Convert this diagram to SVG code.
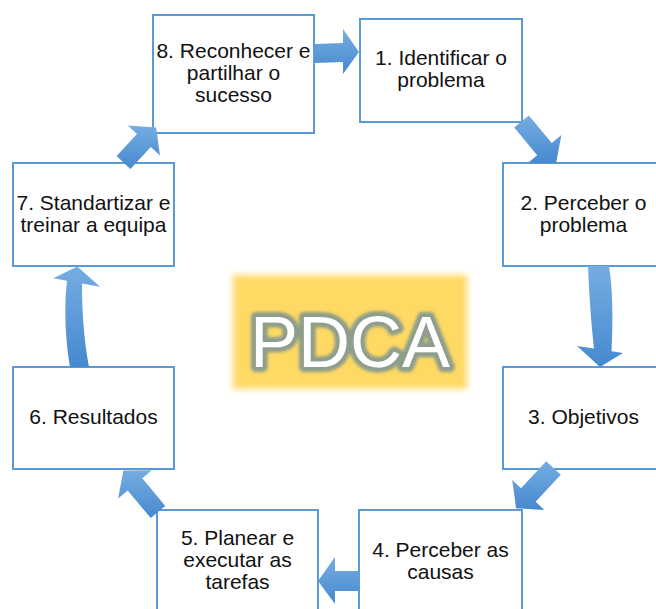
<svg xmlns="http://www.w3.org/2000/svg" width="656" height="609" viewBox="0 0 656 609">
  <defs>
    <linearGradient id="arrowFill" x1="0" y1="0" x2="0" y2="1">
      <stop offset="0" stop-color="#76ade2"/>
      <stop offset="1" stop-color="#4689cf"/>
    </linearGradient>
    <filter id="softEdge" x="-10%" y="-10%" width="120%" height="120%">
      <feGaussianBlur stdDeviation="3"/>
    </filter>
    <filter id="glow" x="-10%" y="-20%" width="120%" height="140%">
      <feGaussianBlur stdDeviation="1.8"/>
    </filter>
    <style>
      .box { fill: #ffffff; stroke: #5b9bd5; stroke-width: 2; }
      .label { font-family: "Liberation Sans", Arial, sans-serif; font-size: 21px; fill: #111111; text-anchor: middle; }
      .arrow { fill: url(#arrowFill); stroke: none; }
      .title { font-family: "Liberation Sans", Arial, sans-serif; font-size: 72px; text-anchor: middle; }
    </style>
  </defs>

  <rect width="656" height="609" fill="#ffffff"/>

  <!-- centre badge -->
  <g id="pdca">
    <rect x="233" y="275" width="234" height="114" fill="#fed963" filter="url(#softEdge)"/>
    <text class="title" x="350" y="367" fill="#8e9d8c" stroke="#8e9d8c" stroke-width="10" stroke-linejoin="round" filter="url(#glow)">PDCA</text>
    <text class="title" x="350" y="367" fill="#ffffff">PDCA</text>
  </g>

  <!-- steps -->
  <g id="step8">
    <rect class="box" x="153" y="15" width="161" height="118"/>
    <text class="label" x="233.5" y="58">8. Reconhecer e</text>
    <text class="label" x="233.5" y="80">partilhar o</text>
    <text class="label" x="233.5" y="102">sucesso</text>
  </g>
  <g id="step1">
    <rect class="box" x="360" y="19" width="162" height="103"/>
    <text class="label" x="441" y="65">1. Identificar o</text>
    <text class="label" x="441" y="87">problema</text>
  </g>
  <g id="step2">
    <rect class="box" x="503" y="163" width="161" height="103"/>
    <text class="label" x="583.5" y="210">2. Perceber o</text>
    <text class="label" x="583.5" y="232">problema</text>
  </g>
  <g id="step3">
    <rect class="box" x="503" y="367" width="161" height="102"/>
    <text class="label" x="583.5" y="424">3. Objetivos</text>
  </g>
  <g id="step4">
    <rect class="box" x="359" y="510" width="163" height="103"/>
    <text class="label" x="440.5" y="557">4. Perceber as</text>
    <text class="label" x="440.5" y="579">causas</text>
  </g>
  <g id="step5">
    <rect class="box" x="157" y="510" width="161" height="103"/>
    <text class="label" x="237.5" y="545">5. Planear e</text>
    <text class="label" x="237.5" y="567">executar as</text>
    <text class="label" x="237.5" y="589">tarefas</text>
  </g>
  <g id="step6">
    <rect class="box" x="13" y="367" width="161" height="102"/>
    <text class="label" x="93.5" y="424">6. Resultados</text>
  </g>
  <g id="step7">
    <rect class="box" x="13" y="163" width="161" height="103"/>
    <text class="label" x="93.5" y="210">7. Standartizar e</text>
    <text class="label" x="93.5" y="232">treinar a equipa</text>
  </g>

  <!-- cycle arrows -->
  <g id="connectors">
    <path class="arrow" d="M315,44 L343,43 L343,29 L359,52 L343,74 L343,62 L315,63 Z"/>
    <path class="arrow" d="M528.8,115.4 L551.8,143.1 L561.4,135.1 L556.1,163.1 L527.6,163.3 L537.2,155.3 L514.2,127.6 Z"/>
    <path class="arrow" d="M588,266 C589,292 591,322 594,348.6 L577,346 L600,367 L623,353 L611.5,351.2 C613,322 613,290 609,266 Z"/>
    <path class="arrow" d="M560.8,474.8 L535.6,501.8 L544.4,510 L516.1,508.2 L512.2,480 L521,488.2 L546.2,461.2 Z"/>
    <path class="arrow" d="M359,571 L335,571 L335,557 L318,581 L335,604 L335,591 L359,591 Z"/>
    <path class="arrow" d="M165.3,505.9 L142.3,478.2 L151.9,470.2 L123.4,470.4 L118.1,498.4 L127.7,490.4 L150.7,518.1 Z"/>
    <path class="arrow" d="M70,367 C65,340 64,305 67,280.8 L53.3,278.3 L77.3,266.5 L100,286.7 L82,283.5 C82,305 83,335 89,367 Z"/>
    <path class="arrow" d="M130.4,169 L150.8,147.1 L160,155.6 L156.1,127.5 L127.8,125.6 L137,134.1 L116.6,156 Z"/>
  </g>
</svg>
